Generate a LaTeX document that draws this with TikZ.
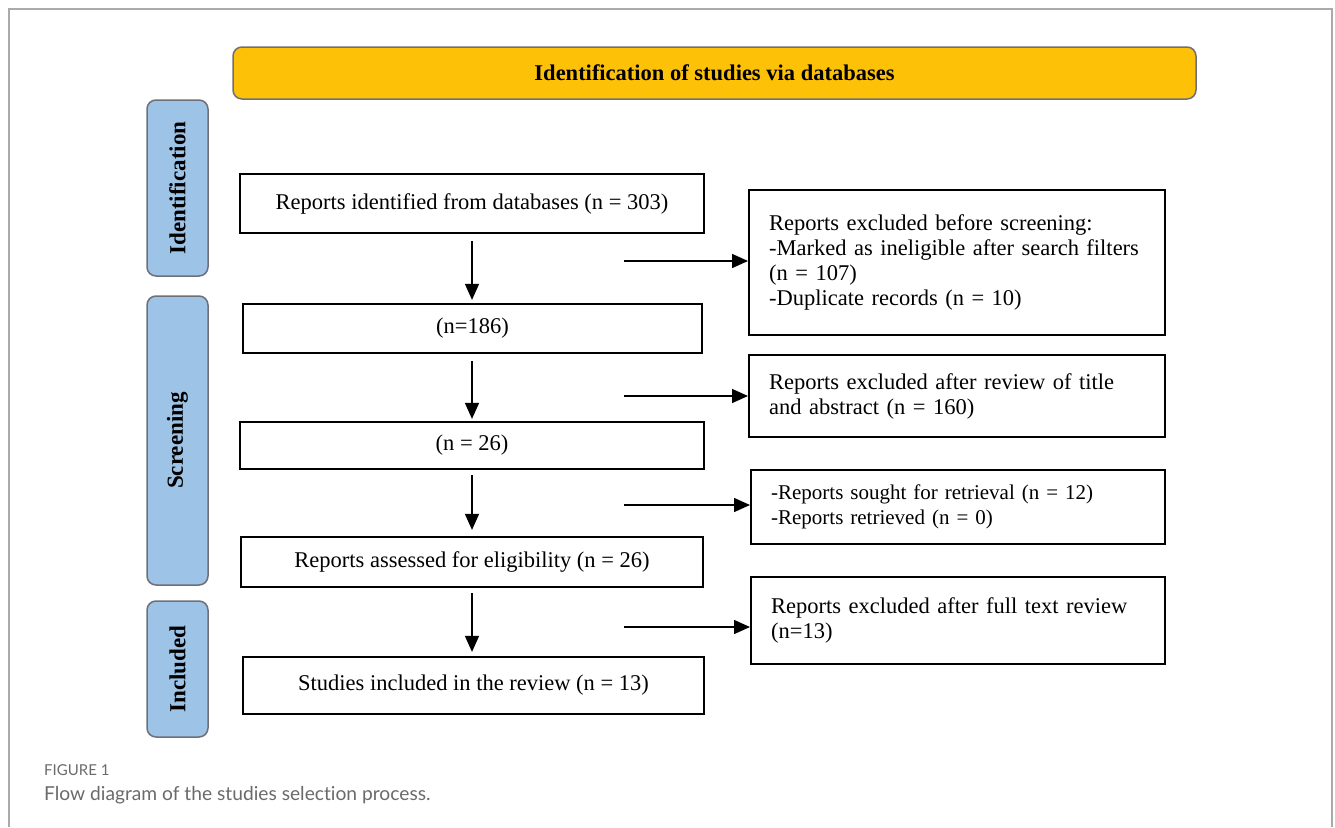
\documentclass[tikz,border=0pt]{standalone}
\usepackage{fontspec}
\setmainfont{Liberation Serif}
\newfontfamily\capfont[Ligatures=NoCommon]{Lato}
\usetikzlibrary{arrows.meta,calc}
\definecolor{banner}{HTML}{FDC108}
\definecolor{sideblue}{HTML}{9DC3E6}
\definecolor{edgegrey}{HTML}{6E7079}
\definecolor{framegrey}{HTML}{AAAAAA}
\definecolor{capgrey}{HTML}{6A6A6A}
\begin{document}
\begin{tikzpicture}[x=1pt,y=-1pt,
  mainbox/.style={draw=black,line width=2.2pt,minimum width=#1,inner sep=0pt,font=\fontsize{22.5}{25}\selectfont},
  sidebox/.style={draw=edgegrey,fill=sideblue,line width=1.5pt,rounded corners=9pt,minimum width=61pt,inner sep=0pt},
  sidetext/.style={rotate=90,font=\fontsize{23}{25}\selectfont\bfseries},
  rbox/.style={draw=black,line width=2.2pt,inner xsep=20pt,inner ysep=0pt,align=left,anchor=north west},
  arr/.style={line width=1.5pt,-{Triangle[length=16pt,width=14pt]}},
]
\useasboundingbox (0,0) rectangle (1335,827);
% frame
\draw[framegrey,line width=1.5pt] (9,827) -- (9,9) -- (1332,9) -- (1332,827);
% banner
\node[draw=edgegrey,fill=banner,line width=1.5pt,rounded corners=9pt,minimum width=963pt,minimum height=52pt,inner sep=0pt,font=\fontsize{22.5}{25}\selectfont\bfseries] (banner) at (714.5,73) {Identification of studies via databases};
% side boxes
\node[sidebox,minimum height=176pt] (sid) at (177.5,188) {};
\node[sidetext] (tid) at (sid.center) {Identification};
\node[sidebox,minimum height=289pt] (sscr) at (177.5,440.5) {};
\node[sidetext] (tscr) at (sscr.center) {Screening};
\node[sidebox,minimum height=136pt] (sinc) at (177.5,669) {};
\node[sidetext] (tinc) at (sinc.center) {Included};
% main boxes
\node[mainbox=464pt,minimum height=59pt] (b1) at (472,203.5) {Reports identified from databases (n = 303)};
\node[mainbox=459pt,minimum height=49pt] (b2) at (472.5,328.5) {(n=186)};
\node[mainbox=464pt,minimum height=47pt] (b3) at (472,445.5) {(n = 26)};
\node[mainbox=462pt,minimum height=50pt] (b4) at (472,562) {Reports assessed for eligibility (n = 26)};
\node[mainbox=461pt,minimum height=57pt] (b5) at (473.5,685.5) {Studies included in the review (n = 13)};
% right boxes
\node[rbox,minimum width=416pt,minimum height=145pt,text width=376pt,font=\fontsize{22.5}{25}\selectfont] (r1) at (748,189) {Reports excluded before screening:\\-Marked as ineligible after search filters\\(n = 107)\\-Duplicate records (n = 10)};
\node[rbox,minimum width=416pt,minimum height=82pt,text width=376pt,font=\fontsize{22.5}{25}\selectfont] (r2) at (748,354) {Reports excluded after review of title\\and abstract (n = 160)};
\node[rbox,minimum width=414pt,minimum height=74pt,text width=374pt,font=\fontsize{21}{25}\selectfont] (r3) at (750,469) {-Reports sought for retrieval (n = 12)\\-Reports retrieved (n = 0)};
\node[rbox,minimum width=414pt,minimum height=87pt,text width=374pt,font=\fontsize{22.5}{25.5}\selectfont] (r4) at (750,576) {Reports excluded after full text review\\(n=13)};
% vertical arrows (all on the axis of b1)
\draw[arr] ($(b1.south)+(0,7)$) -- ($(b1.south |- b2.north)+(0,-3)$);
\draw[arr] ($(b1.south |- b2.south)+(0,7)$) -- ($(b1.south |- b3.north)+(0,-2)$);
\draw[arr] ($(b1.south |- b3.south)+(0,5)$) -- ($(b1.south |- b4.north)+(0,-6)$);
\draw[arr] ($(b1.south |- b4.south)+(0,5)$) -- ($(b1.south |- b5.north)+(0,-4)$);
% horizontal arrows
\coordinate (h1) at (624,261);
\coordinate (h2) at (624,396);
\coordinate (h3) at (624,505);
\coordinate (h4) at (624,627);
\draw[arr] (h1) -- (h1 -| r1.west);
\draw[arr] (h2) -- (h2 -| r2.west);
\draw[arr] (h3) -- (h3 -| r3.west);
\draw[arr] (h4) -- (h4 -| r4.west);
% caption
\node[anchor=west,inner sep=0pt,text=capgrey,font=\capfont\fontsize{15}{16}\selectfont] (figlab) at (44,770) {FIGURE 1};
\node[anchor=west,inner sep=0pt,text=capgrey,font=\capfont\fontsize{19.2}{22}\selectfont] (figcap) at (44,795) {Flow diagram of the studies selection process.};
\end{tikzpicture}
\end{document}
